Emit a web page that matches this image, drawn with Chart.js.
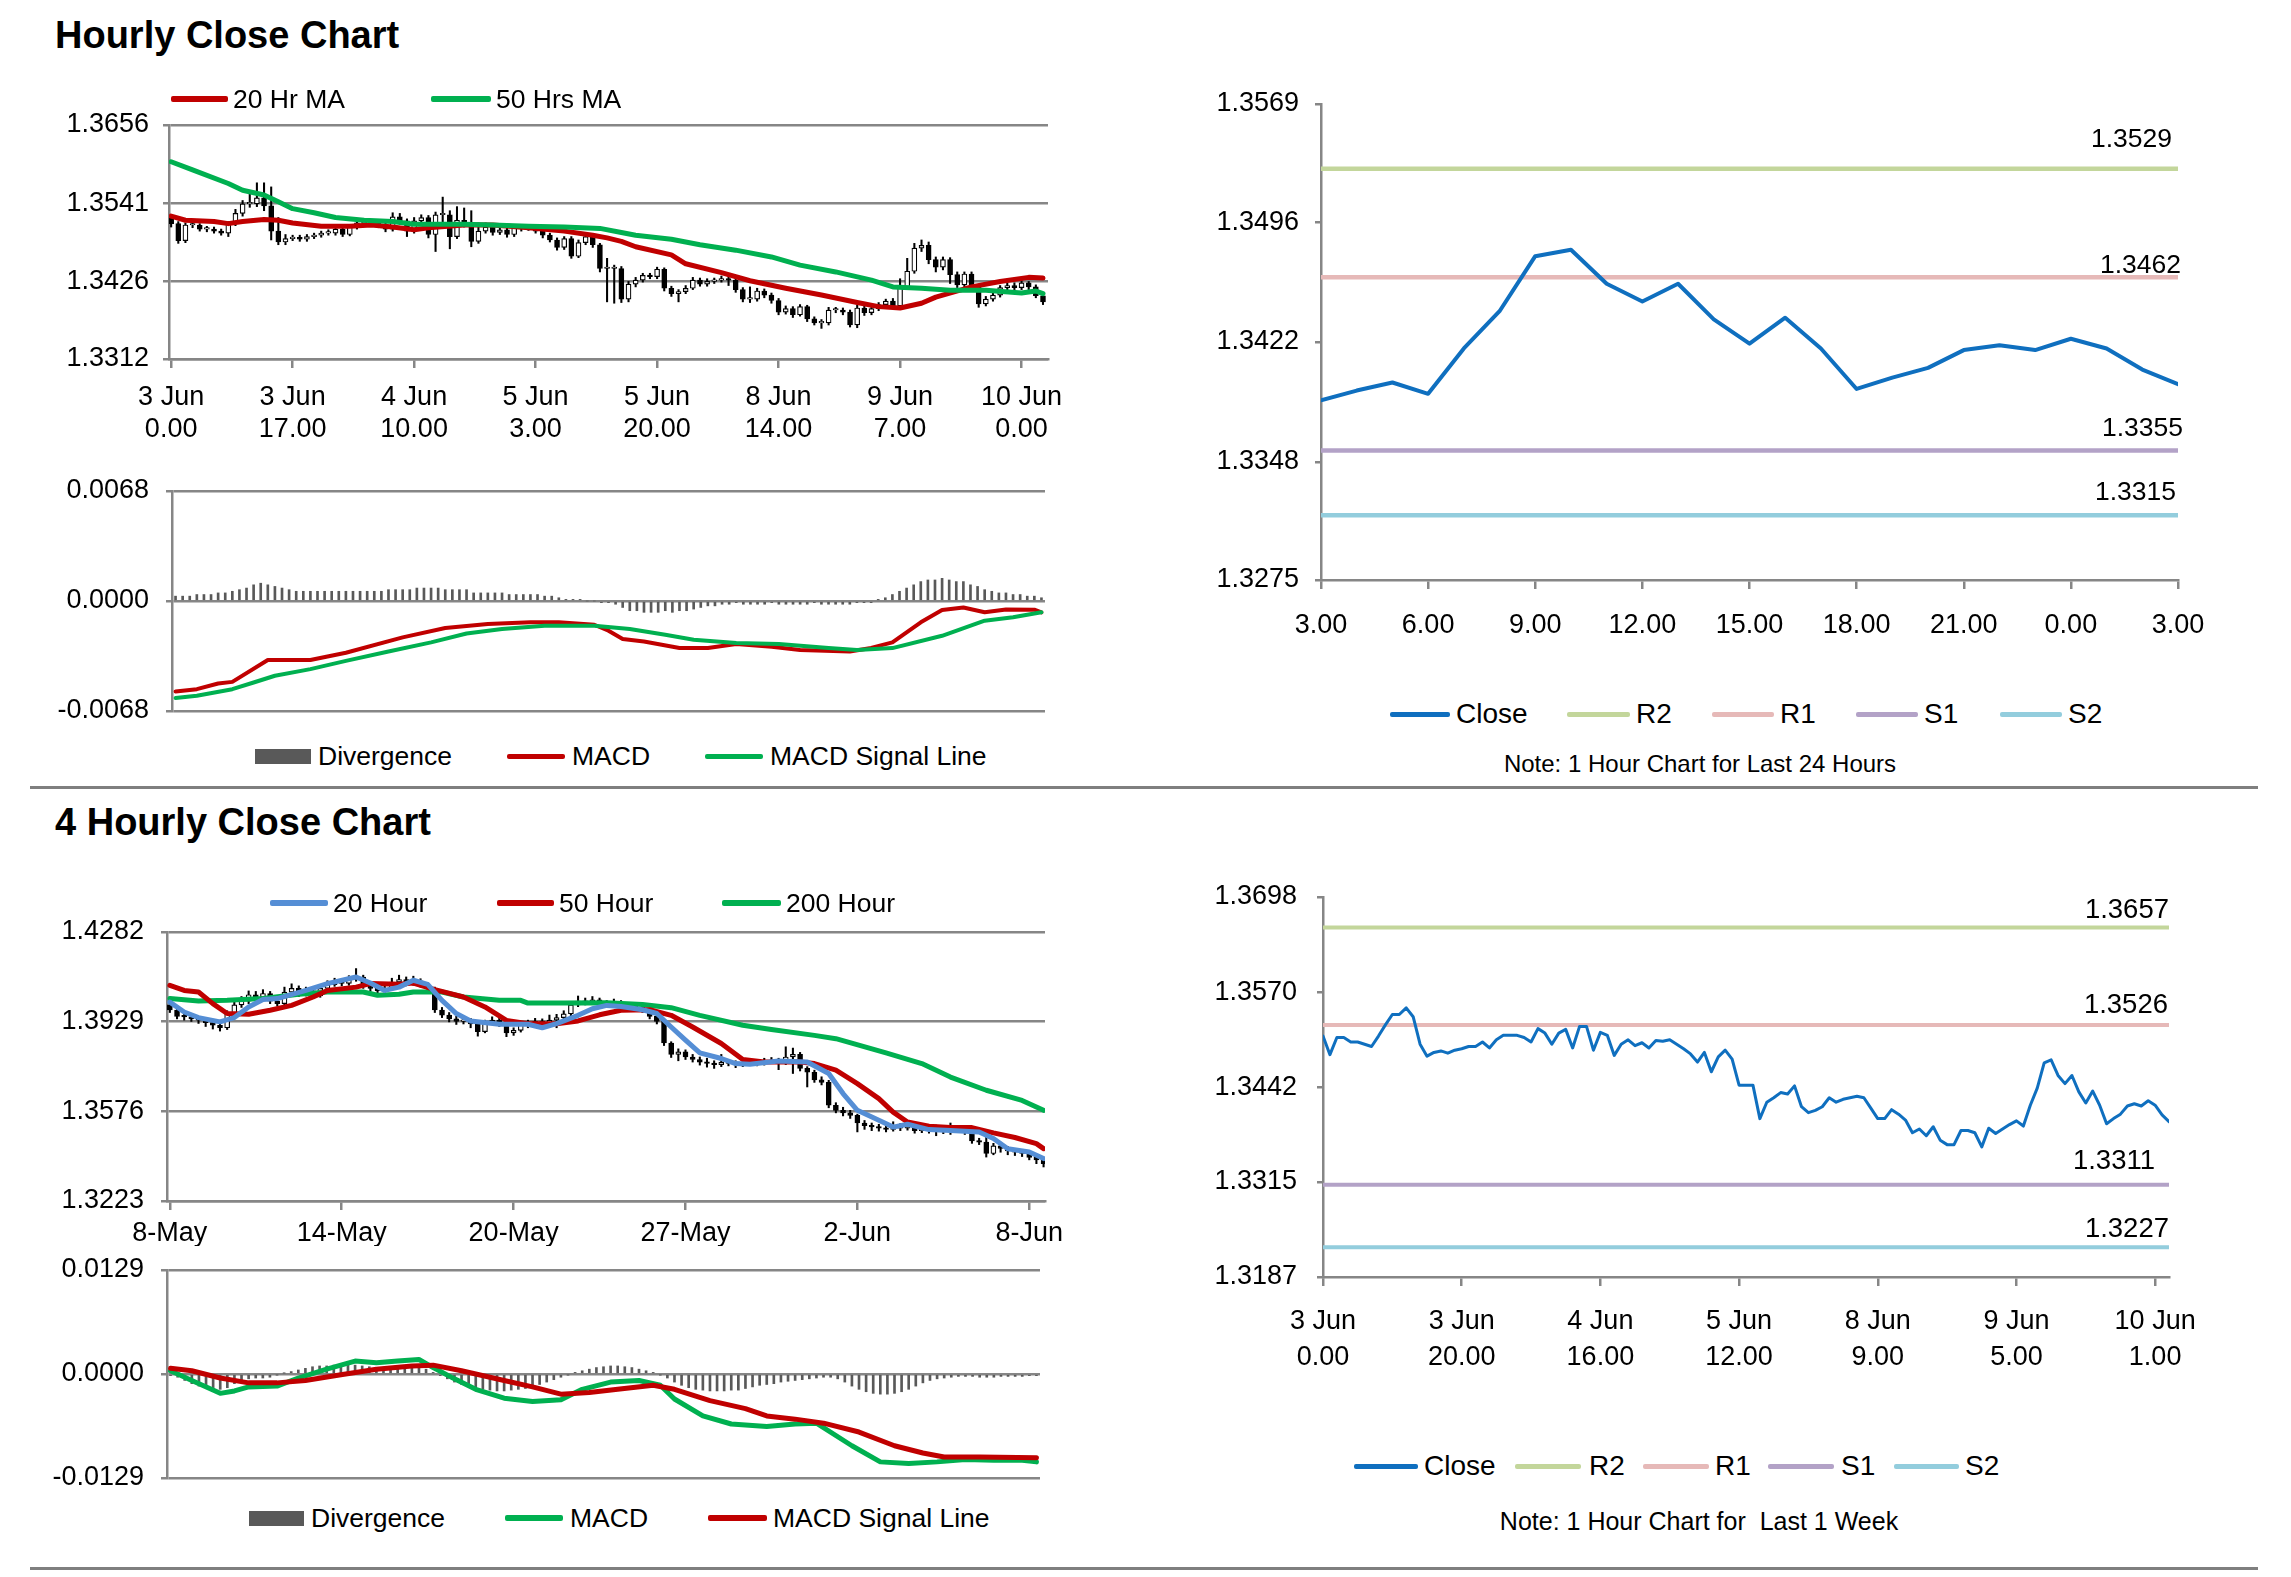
<!DOCTYPE html>
<html>
<head>
<meta charset="utf-8">
<title>Hourly Close Chart</title>
<script src="https://cdn.jsdelivr.net/npm/chart.js@4.4.1/dist/chart.umd.min.js"></script>
<style>
  html, body { margin: 0; padding: 0; background: #fff; }
  body { width: 2291px; height: 1577px; position: relative; overflow: hidden;
         font-family: "Liberation Sans", Arial, sans-serif; color: #000; }
  canvas { position: absolute; }
  .title { position: absolute; font-weight: bold; font-size: 38px; line-height: 1; transform: translateY(-50%); white-space: nowrap; }
  .rule { position: absolute; height: 3px; background: #7f7f7f; }
  .leg { position: absolute; line-height: 1; white-space: nowrap; transform: translateY(-50%); }
  .sw { position: absolute; border-radius: 2px; }
  .note { position: absolute; line-height: 1; white-space: nowrap; transform: translate(-50%, -50%); }
</style>
</head>
<body>
<div class="title" style="left:55px; top:35px;">Hourly Close Chart</div>
<div class="title" style="left:55px; top:822px;">4 Hourly Close Chart</div>
<div class="rule" style="left:30px; width:2228px; top:786px;"></div>
<div class="rule" style="left:30px; width:2228px; top:1567px;"></div>
<div class="note" style="left:1700px; top:764px; font-size:24px;">Note: 1 Hour Chart for Last 24 Hours</div>
<div class="note" style="left:1699px; top:1521px; font-size:25px;">Note: 1 Hour Chart for&nbsp; Last 1 Week</div>

<script>
// ---------------- hourly candles (3 Jun 0.00 .. 10 Jun 3.00) ----------------
const hourlyTickPos = [0, 17, 34, 51, 68, 85, 102, 119];
const hourlyTickLabels = [['3 Jun', '0.00'], ['3 Jun', '17.00'], ['4 Jun', '10.00'], ['5 Jun', '3.00'],
                          ['5 Jun', '20.00'], ['8 Jun', '14.00'], ['9 Jun', '7.00'], ['10 Jun', '0.00']];
const hourlyYTicks = [1.3312, 1.3426, 1.3541, 1.3656];

const hourlyOpen = [
  1.3519,1.3511,1.3486,1.3509,1.3509,1.3503,1.3503,1.3500,1.3497,1.3511,
  1.3526,1.3540,1.3540,1.3549,1.3537,1.3500,1.3484,1.3489,1.3491,1.3488,
  1.3492,1.3494,1.3497,1.3497,1.3503,1.3495,1.3506,1.3512,1.3512,1.3512,
  1.3509,1.3503,1.3521,1.3515,1.3500,1.3515,1.3520,1.3495,1.3524,1.3524,
  1.3492,1.3516,1.3512,1.3485,1.3500,1.3506,1.3498,1.3502,1.3495,1.3505,
  1.3504,1.3506,1.3500,1.3494,1.3487,1.3476,1.3489,1.3463,1.3483,1.3492,
  1.3480,1.3445,1.3445,1.3445,1.3400,1.3422,1.3428,1.3435,1.3433,1.3444,
  1.3416,1.3408,1.3411,1.3416,1.3428,1.3422,1.3426,1.3428,1.3430,1.3428,
  1.3414,1.3400,1.3400,1.3412,1.3406,1.3398,1.3381,1.3386,1.3377,1.3389,
  1.3371,1.3365,1.3365,1.3384,1.3384,1.3381,1.3362,1.3387,1.3380,1.3386,
  1.3392,1.3397,1.3390,1.3418,1.3441,1.3475,1.3479,1.3458,1.3447,1.3458,
  1.3436,1.3421,1.3437,1.3418,1.3393,1.3400,1.3406,1.3417,1.3420,1.3417,
  1.3424,1.3418,1.3405];
const hourlyHigh = [
  1.3524,1.3514,1.3512,1.3513,1.3511,1.3507,1.3506,1.3503,1.3514,1.3532,
  1.3545,1.3560,1.3571,1.3571,1.3565,1.3520,1.3495,1.3494,1.3494,1.3495,
  1.3497,1.3500,1.3502,1.3507,1.3506,1.3509,1.3515,1.3516,1.3517,1.3515,
  1.3512,1.3527,1.3526,1.3518,1.3520,1.3524,1.3523,1.3528,1.3550,1.3530,
  1.3536,1.3534,1.3530,1.3512,1.3512,1.3510,1.3506,1.3505,1.3509,1.3509,
  1.3510,1.3509,1.3503,1.3497,1.3490,1.3492,1.3492,1.3487,1.3495,1.3495,
  1.3482,1.3460,1.3450,1.3448,1.3426,1.3432,1.3438,1.3438,1.3447,1.3446,
  1.3419,1.3414,1.3420,1.3432,1.3431,1.3430,1.3431,1.3434,1.3437,1.3431,
  1.3417,1.3418,1.3416,1.3415,1.3409,1.3401,1.3390,1.3389,1.3392,1.3391,
  1.3374,1.3370,1.3388,1.3388,1.3387,1.3384,1.3391,1.3390,1.3390,1.3395,
  1.3400,1.3401,1.3430,1.3460,1.3482,1.3487,1.3484,1.3462,1.3462,1.3461,
  1.3440,1.3440,1.3440,1.3421,1.3404,1.3410,1.3420,1.3424,1.3424,1.3427,
  1.3426,1.3421,1.3408];
const hourlyLow = [
  1.3506,1.3482,1.3483,1.3505,1.3500,1.3499,1.3497,1.3494,1.3492,1.3508,
  1.3522,1.3535,1.3536,1.3530,1.3487,1.3480,1.3480,1.3486,1.3485,1.3485,
  1.3489,1.3491,1.3494,1.3494,1.3492,1.3493,1.3503,1.3508,1.3508,1.3505,
  1.3499,1.3500,1.3510,1.3492,1.3497,1.3511,1.3490,1.3470,1.3505,1.3474,
  1.3489,1.3506,1.3477,1.3482,1.3497,1.3494,1.3495,1.3491,1.3492,1.3500,
  1.3501,1.3497,1.3490,1.3484,1.3472,1.3473,1.3460,1.3461,1.3480,1.3476,
  1.3440,1.3396,1.3394,1.3395,1.3396,1.3418,1.3425,1.3430,1.3430,1.3412,
  1.3404,1.3396,1.3408,1.3414,1.3419,1.3419,1.3423,1.3425,1.3420,1.3410,
  1.3396,1.3395,1.3397,1.3402,1.3394,1.3377,1.3378,1.3373,1.3375,1.3367,
  1.3362,1.3357,1.3362,1.3380,1.3377,1.3359,1.3358,1.3376,1.3377,1.3383,
  1.3389,1.3386,1.3387,1.3415,1.3438,1.3470,1.3452,1.3440,1.3443,1.3423,
  1.3417,1.3418,1.3414,1.3388,1.3390,1.3397,1.3403,1.3413,1.3414,1.3414,
  1.3414,1.3402,1.3392];
const hourlyClose = [
  1.3511,1.3486,1.3509,1.3509,1.3503,1.3503,1.3500,1.3497,1.3511,1.3526,
  1.3540,1.3540,1.3549,1.3537,1.3500,1.3484,1.3489,1.3491,1.3488,1.3492,
  1.3494,1.3497,1.3497,1.3503,1.3495,1.3506,1.3512,1.3512,1.3512,1.3509,
  1.3503,1.3521,1.3515,1.3500,1.3515,1.3520,1.3495,1.3524,1.3524,1.3492,
  1.3516,1.3512,1.3485,1.3500,1.3506,1.3498,1.3502,1.3495,1.3505,1.3504,
  1.3506,1.3500,1.3494,1.3487,1.3476,1.3489,1.3463,1.3483,1.3492,1.3480,
  1.3445,1.3445,1.3445,1.3400,1.3422,1.3428,1.3435,1.3433,1.3444,1.3416,
  1.3408,1.3411,1.3416,1.3428,1.3422,1.3426,1.3428,1.3430,1.3428,1.3414,
  1.3400,1.3400,1.3412,1.3406,1.3398,1.3381,1.3386,1.3377,1.3389,1.3371,
  1.3365,1.3365,1.3384,1.3384,1.3381,1.3362,1.3387,1.3380,1.3386,1.3392,
  1.3397,1.3390,1.3418,1.3441,1.3475,1.3479,1.3458,1.3447,1.3458,1.3436,
  1.3421,1.3437,1.3418,1.3393,1.3400,1.3406,1.3417,1.3420,1.3417,1.3424,
  1.3418,1.3405,1.3396];

// moving averages: [hour index, value]
const hourlyMa20 = [[0,1.3522],[2,1.3516],[6,1.3514],[8,1.3511],[10,1.3514],[13,1.3517],[15,1.3516],[17,1.3512],
  [21,1.3507],[25,1.3507],[28,1.3509],[31,1.3506],[34,1.3502],[36,1.3505],[41,1.3509],[45,1.3509],[50,1.3505],
  [55,1.3500],[59,1.3494],[61,1.3490],[63,1.3485],[65,1.3477],[70,1.3465],[72,1.3452],[77,1.3439],[81,1.3427],
  [86,1.3416],[91,1.3406],[96,1.3395],[99,1.3389],[102,1.3387],[105,1.3394],[107,1.3403],[112,1.3418],
  [116,1.3426],[120,1.3432],[122,1.3431]];
const hourlyMa50 = [[0,1.3602],[3,1.3590],[8,1.3570],[10,1.3560],[13,1.3553],[15,1.3543],[17,1.3533],[20,1.3527],
  [23,1.3520],[27,1.3516],[31,1.3514],[34,1.3510],[41,1.3510],[45,1.3509],[50,1.3507],[55,1.3506],[60,1.3504],
  [63,1.3498],[65,1.3494],[70,1.3488],[74,1.3480],[79,1.3472],[84,1.3462],[88,1.3450],[93,1.3440],[98,1.3428],
  [101,1.3418],[105,1.3416],[109,1.3413],[114,1.3413],[119,1.3409],[121,1.3412],[122,1.3408]];

// hourly MACD panel
const hourlyMacdYTicks = [-0.0068, 0, 0.0068];
const hourlyMacd = [[0,-0.0056],[3,-0.00545],[6,-0.0051],[8,-0.0050],[13,-0.00365],[19,-0.00365],[24,-0.0032],
  [32,-0.00225],[38,-0.00167],[44,-0.00142],[50,-0.00132],[54,-0.00132],[59,-0.00147],[61,-0.00184],[63,-0.00235],
  [66,-0.0025],[71,-0.0029],[75,-0.0029],[79,-0.00266],[84,-0.00283],[88,-0.00303],[95,-0.00312],[98,-0.0029],
  [101,-0.00256],[105,-0.00132],[108,-0.00056],[111,-0.0004],[114,-0.0007],[117,-0.00052],[121,-0.00054],[122,-0.0007]];
const hourlySignal = [[0,-0.0060],[3,-0.00586],[8,-0.00545],[11,-0.00504],[14,-0.00462],[19,-0.00421],[24,-0.0037],
  [30,-0.00312],[36,-0.00256],[41,-0.00201],[46,-0.00173],[52,-0.00153],[59,-0.00153],[64,-0.00173],[69,-0.00209],
  [73,-0.0024],[79,-0.0026],[85,-0.00266],[92,-0.00291],[96,-0.00303],[101,-0.00291],[108,-0.00215],[114,-0.00122],
  [118,-0.00101],[122,-0.0007]];
const hourlyDivergence = [
  0.0003,0.0003,0.0003,0.0004,0.0004,0.0004,0.0005,0.0005,0.0006,0.0007,
  0.0008,0.0010,0.0011,0.0010,0.0009,0.0008,0.0007,0.0006,0.0006,0.0006,
  0.0006,0.0006,0.0006,0.0006,0.0006,0.0006,0.0006,0.0006,0.0006,0.0006,
  0.0007,0.0007,0.0007,0.0007,0.0008,0.0008,0.0008,0.0008,0.0007,0.0007,
  0.0007,0.0007,0.0005,0.0005,0.0005,0.0005,0.0005,0.0004,0.0004,0.0004,
  0.0004,0.0004,0.0003,0.0003,0.0002,0.0001,0.0001,0.0001,0.0000,0.0000,
  -0.0001,-0.0001,-0.0002,-0.0004,-0.0006,-0.0006,-0.0007,-0.0007,-0.0007,-0.0006,
  -0.0007,-0.0006,-0.0006,-0.0005,-0.0004,-0.0003,-0.0003,-0.0002,-0.0002,-0.0001,
  -0.0002,-0.0002,-0.0002,-0.0002,-0.0001,-0.0002,-0.0002,-0.0002,-0.0002,-0.0002,
  -0.0001,-0.0002,-0.0002,-0.0002,-0.0002,-0.0002,-0.0001,-0.0001,-0.0001,0.0001,
  0.0002,0.0004,0.0006,0.0008,0.0010,0.0012,0.0013,0.0013,0.0014,0.0013,
  0.0012,0.0012,0.0010,0.0009,0.0007,0.0006,0.0005,0.0005,0.0004,0.0004,
  0.0003,0.0003,0.0002];

// ---------------- last 24 hours (9 Jun 3.00 .. 10 Jun 3.00) ----------------
const dayTickPos = [0, 3, 6, 9, 12, 15, 18, 21, 24];
const dayTickLabels = ['3.00', '6.00', '9.00', '12.00', '15.00', '18.00', '21.00', '0.00', '3.00'];
const dayYTicks = [1.3275, 1.3348, 1.3422, 1.3496, 1.3569];
const dayClose = hourlyClose.slice(-25);
const levelNames = ['R2', 'R1', 'S1', 'S2'];
const dayLevels = [1.3529, 1.3462, 1.3355, 1.3315];

// ---------------- 4 hourly candles (8 May .. 8 Jun) ----------------
const fourHourTickPos = [0, 24, 48, 72, 96, 120];
const fourHourTickLabels = ['8-May', '14-May', '20-May', '27-May', '2-Jun', '8-Jun'];
const fourHourYTicks = [1.3223, 1.3576, 1.3929, 1.4282];
const fourHourOpen = [
  1.3995,1.3975,1.3950,1.3948,1.3940,1.3935,1.3925,1.3915,1.3905,1.3960,
  1.3995,1.4010,1.4035,1.4025,1.4040,1.4010,1.4000,1.4045,1.4060,1.4040,
  1.4050,1.4030,1.4060,1.4075,1.4085,1.4080,1.4095,1.4105,1.4070,1.4060,
  1.4050,1.4060,1.4085,1.4095,1.4080,1.4090,1.4075,1.4060,1.3975,1.3955,
  1.3940,1.3930,1.3935,1.3920,1.3890,1.3925,1.3935,1.3920,1.3885,1.3895,
  1.3915,1.3920,1.3930,1.3925,1.3935,1.3945,1.3960,1.3995,1.4010,1.4005,
  1.4015,1.4000,1.3995,1.4005,1.3995,1.3990,1.3985,1.3975,1.3950,1.3930,
  1.3845,1.3800,1.3810,1.3790,1.3780,1.3770,1.3765,1.3760,1.3770,1.3765,
  1.3760,1.3768,1.3770,1.3765,1.3772,1.3775,1.3770,1.3790,1.3800,1.3745,
  1.3730,1.3700,1.3690,1.3600,1.3580,1.3570,1.3560,1.3530,1.3520,1.3515,
  1.3510,1.3505,1.3520,1.3510,1.3525,1.3500,1.3505,1.3500,1.3510,1.3495,
  1.3505,1.3500,1.3495,1.3460,1.3455,1.3410,1.3440,1.3430,1.3420,1.3415,
  1.3410,1.3395,1.3385];
const fourHourHigh = [
  1.4010,1.3982,1.3965,1.3958,1.3950,1.3942,1.3932,1.3925,1.3972,1.4012,
  1.4028,1.4050,1.4048,1.4055,1.4048,1.4020,1.4065,1.4078,1.4070,1.4065,
  1.4060,1.4075,1.4090,1.4100,1.4098,1.4110,1.4138,1.4112,1.4078,1.4068,
  1.4075,1.4100,1.4112,1.4105,1.4108,1.4098,1.4082,1.4065,1.3985,1.3965,
  1.3950,1.3948,1.3942,1.3928,1.3935,1.3948,1.3942,1.3925,1.3905,1.3925,
  1.3935,1.3942,1.3940,1.3955,1.3958,1.3972,1.4008,1.4030,1.4022,1.4028,
  1.4022,1.4012,1.4018,1.4012,1.4005,1.3998,1.3992,1.3980,1.3958,1.3935,
  1.3850,1.3822,1.3818,1.3800,1.3790,1.3785,1.3775,1.3800,1.3780,1.3775,
  1.3780,1.3782,1.3778,1.3785,1.3788,1.3785,1.3830,1.3825,1.3808,1.3752,
  1.3738,1.3712,1.3698,1.3610,1.3592,1.3580,1.3565,1.3540,1.3530,1.3525,
  1.3520,1.3535,1.3528,1.3540,1.3530,1.3518,1.3515,1.3522,1.3518,1.3530,
  1.3515,1.3508,1.3500,1.3470,1.3475,1.3450,1.3448,1.3438,1.3428,1.3422,
  1.3418,1.3402,1.3392];
const fourHourLow = [
  1.3965,1.3940,1.3935,1.3930,1.3922,1.3910,1.3900,1.3892,1.3898,1.3950,
  1.3985,1.4000,1.4012,1.4015,1.4000,1.3990,1.3995,1.4035,1.4028,1.4030,
  1.4020,1.4025,1.4050,1.4068,1.4070,1.4072,1.4088,1.4060,1.4048,1.4040,
  1.4045,1.4052,1.4078,1.4070,1.4072,1.4065,1.4050,1.3965,1.3945,1.3928,
  1.3918,1.3920,1.3905,1.3872,1.3885,1.3918,1.3910,1.3870,1.3875,1.3888,
  1.3905,1.3912,1.3915,1.3918,1.3905,1.3938,1.3952,1.3988,1.3995,1.3998,
  1.3990,1.3985,1.3988,1.3985,1.3980,1.3975,1.3965,1.3940,1.3920,1.3835,
  1.3788,1.3775,1.3780,1.3770,1.3758,1.3750,1.3745,1.3752,1.3755,1.3748,
  1.3752,1.3760,1.3755,1.3758,1.3765,1.3740,1.3760,1.3725,1.3735,1.3672,
  1.3690,1.3680,1.3590,1.3570,1.3558,1.3548,1.3495,1.3505,1.3500,1.3498,
  1.3495,1.3498,1.3500,1.3502,1.3490,1.3492,1.3490,1.3480,1.3488,1.3485,
  1.3492,1.3485,1.3450,1.3445,1.3396,1.3405,1.3415,1.3405,1.3402,1.3398,
  1.3385,1.3370,1.3357];
const fourHourClose = [
  1.3975,1.3950,1.3948,1.3940,1.3935,1.3925,1.3915,1.3905,1.3960,1.3995,
  1.4010,1.4035,1.4025,1.4040,1.4010,1.4000,1.4045,1.4060,1.4040,1.4050,
  1.4030,1.4060,1.4075,1.4085,1.4080,1.4095,1.4105,1.4070,1.4060,1.4050,
  1.4060,1.4085,1.4095,1.4080,1.4090,1.4075,1.4060,1.3975,1.3955,1.3940,
  1.3930,1.3935,1.3920,1.3890,1.3925,1.3935,1.3920,1.3885,1.3895,1.3915,
  1.3920,1.3930,1.3925,1.3935,1.3945,1.3960,1.3995,1.4010,1.4005,1.4015,
  1.4000,1.3995,1.4005,1.3995,1.3990,1.3985,1.3975,1.3950,1.3930,1.3845,
  1.3800,1.3810,1.3790,1.3780,1.3770,1.3765,1.3760,1.3770,1.3765,1.3760,
  1.3768,1.3770,1.3765,1.3772,1.3775,1.3770,1.3790,1.3800,1.3745,1.3730,
  1.3700,1.3690,1.3600,1.3580,1.3570,1.3560,1.3530,1.3520,1.3515,1.3510,
  1.3505,1.3520,1.3510,1.3525,1.3500,1.3505,1.3500,1.3510,1.3495,1.3505,
  1.3500,1.3495,1.3460,1.3455,1.3410,1.3440,1.3430,1.3420,1.3415,1.3410,
  1.3395,1.3385,1.3370];

const fourHourMa20 = [[0,1.4006],[2,1.3967],[4,1.3945],[7,1.3928],[9,1.3945],[11,1.3987],[13,1.4016],[15,1.4020],
  [19,1.4052],[22,1.4079],[26,1.4105],[28,1.4081],[30,1.4052],[32,1.4065],[34,1.4092],[36,1.4076],[38,1.4013],
  [40,1.3961],[42,1.3932],[46,1.3919],[50,1.3919],[52,1.3905],[54,1.3921],[57,1.3954],[59,1.3980],[61,1.3993],
  [63,1.3989],[66,1.3976],[68,1.3961],[70,1.3908],[72,1.3856],[74,1.3806],[77,1.3784],[79,1.3764],[81,1.3761],
  [85,1.3774],[89,1.3770],[92,1.3725],[94,1.3646],[96,1.3580],[99,1.3541],[101,1.3514],[103,1.3525],[106,1.3504],
  [109,1.3501],[113,1.3495],[115,1.3469],[117,1.3429],[120,1.3416],[122,1.3390]];
const fourHourMa50 = [[0,1.4072],[2,1.4052],[4,1.4046],[6,1.4000],[8,1.3961],[11,1.3958],[14,1.3974],[17,1.3993],
  [20,1.4026],[22,1.4052],[26,1.4065],[28,1.4079],[32,1.4076],[34,1.4081],[37,1.4055],[41,1.4026],[44,1.3987],
  [47,1.3934],[50,1.3921],[54,1.3921],[57,1.3932],[60,1.3956],[63,1.3974],[67,1.3976],[70,1.3954],[73,1.3908],
  [77,1.3843],[80,1.3780],[83,1.3770],[88,1.3770],[90,1.3764],[93,1.3738],[96,1.3685],[99,1.3626],[101,1.3573],
  [103,1.3534],[106,1.3517],[109,1.3512],[112,1.3512],[115,1.3491],[118,1.3473],[121,1.3449],[122,1.3429]];
const fourHourMa200 = [[0,1.4020],[4,1.4010],[8,1.4013],[13,1.4020],[18,1.4037],[22,1.4046],[27,1.4046],[29,1.4033],
  [32,1.4037],[34,1.4046],[38,1.4046],[41,1.4026],[46,1.4013],[49,1.4013],[50,1.4002],[55,1.4002],[61,1.4003],
  [66,1.3997],[70,1.3984],[74,1.3954],[80,1.3915],[84,1.3898],[90,1.3875],[93,1.3862],[100,1.3806],[105,1.3764],
  [109,1.3711],[114,1.3659],[119,1.3619],[122,1.3580]];

// 4 hourly MACD panel
const fourHourMacdYTicks = [-0.0129, 0, 0.0129];
const fourHourMacd = [[0,0.0004],[3,-0.0008],[7,-0.0024],[9,-0.0021],[11,-0.0016],[15,-0.0015],[18,-0.0005],
  [22,0.0006],[26,0.0016],[29,0.0014],[32,0.0016],[35,0.0018],[37,0.0008],[40,-0.0006],[43,-0.0019],[47,-0.0030],
  [51,-0.0034],[55,-0.0032],[58,-0.0019],[62,-0.0010],[66,-0.0008],[69,-0.0014],[71,-0.0031],[75,-0.0052],
  [79,-0.0062],[84,-0.0065],[88,-0.0062],[91,-0.0061],[96,-0.0089],[100,-0.0109],[104,-0.0111],[108,-0.0109],
  [112,-0.0106],[116,-0.0107],[120,-0.0107],[122,-0.0109]];
const fourHourSignal = [[0,0.0007],[3,0.0004],[7,-0.0005],[11,-0.0011],[15,-0.0011],[19,-0.0008],[24,-0.0001],
  [29,0.0006],[34,0.0010],[37,0.0011],[41,0.0004],[47,-0.0008],[51,-0.0016],[55,-0.0025],[59,-0.0023],[63,-0.0019],
  [68,-0.0014],[71,-0.0019],[76,-0.0033],[81,-0.0043],[84,-0.0052],[88,-0.0056],[92,-0.0061],[97,-0.0072],
  [102,-0.0089],[106,-0.0098],[109,-0.0103],[114,-0.0103],[122,-0.0104]];
const fourHourDivergence = [
  -0.0002,-0.0004,-0.0008,-0.0012,-0.0015,-0.0017,-0.0019,-0.0019,-0.0017,-0.0012,
  -0.0008,-0.0006,-0.0005,-0.0005,-0.0004,-0.0001,0.0001,0.0003,0.0005,0.0007,
  0.0009,0.0010,0.0010,0.0011,0.0012,0.0012,0.0011,0.0010,0.0009,0.0008,
  0.0008,0.0007,0.0007,0.0007,0.0008,0.0008,0.0006,0.0002,-0.0002,-0.0006,
  -0.0010,-0.0013,-0.0016,-0.0018,-0.0019,-0.0020,-0.0021,-0.0021,-0.0020,-0.0019,
  -0.0018,-0.0016,-0.0013,-0.0010,-0.0007,-0.0004,-0.0001,0.0002,0.0004,0.0006,
  0.0008,0.0009,0.0010,0.0010,0.0009,0.0008,0.0006,0.0004,0.0002,-0.0001,
  -0.0005,-0.0010,-0.0014,-0.0017,-0.0019,-0.0020,-0.0021,-0.0021,-0.0021,-0.0020,
  -0.0020,-0.0018,-0.0016,-0.0014,-0.0013,-0.0012,-0.0010,-0.0009,-0.0008,-0.0007,
  -0.0006,-0.0005,-0.0004,-0.0004,-0.0006,-0.0010,-0.0015,-0.0019,-0.0022,-0.0024,
  -0.0025,-0.0025,-0.0024,-0.0022,-0.0019,-0.0015,-0.0011,-0.0008,-0.0006,-0.0005,
  -0.0004,-0.0003,-0.0003,-0.0003,-0.0004,-0.0004,-0.0004,-0.0003,-0.0003,-0.0003,
  -0.0003,-0.0002,-0.0002];

// ---------------- last 1 week hourly closes ----------------
const weekTickPos = [0, 20, 40, 60, 80, 100, 120];
const weekTickLabels = [['3 Jun', '0.00'], ['3 Jun', '20.00'], ['4 Jun', '16.00'], ['5 Jun', '12.00'],
                        ['8 Jun', '9.00'], ['9 Jun', '5.00'], ['10 Jun', '1.00']];
const weekYTicks = [1.3187, 1.3315, 1.3442, 1.3570, 1.3698];
const weekLevels = [1.3657, 1.3526, 1.3311, 1.3227];

// ---------------- styling ----------------
const FONT = '"Liberation Sans", Arial, sans-serif';
const GRID = '#868686';
const RED = '#C00000';
const GREEN = '#00B050';
const CLOSE_BLUE = '#0F6FBF';
const MA_BLUE = '#558ED5';
const DIV_GREY = '#595959';
const levelColors = ['#C3D69B', '#E6B9B8', '#B3A2C7', '#93CDDD'];

Chart.defaults.font.family = FONT;
Chart.defaults.color = '#000';

function pairs(list) { return list.map(p => ({ x: p[0], y: p[1] })); }
function series(values) { return values.map((v, i) => ({ x: i, y: v })); }

function makeCanvas(left, top, w, h) {
  const c = document.createElement('canvas');
  c.width = w; c.height = h;
  c.style.left = left + 'px'; c.style.top = top + 'px';
  c.style.width = w + 'px'; c.style.height = h + 'px';
  document.body.appendChild(c);
  return c;
}

function lineSet(data, color, width, order) {
  return { type: 'line', data, borderColor: color, backgroundColor: color, borderWidth: width,
           pointRadius: 0, tension: 0, order, borderJoinStyle: 'round', borderCapStyle: 'round' };
}

function candleSets(open, high, low, close, bodyWidth) {
  const body = open.map((o, i) => ({ x: i, y: [o, close[i]] }));
  const wick = open.map((o, i) => ({ x: i, y: [low[i], high[i]] }));
  const fill = open.map((o, i) => close[i] >= o ? '#ffffff' : '#000000');
  return [
    { type: 'bar', data: body, backgroundColor: fill, borderColor: '#000', borderWidth: 1.2,
      borderSkipped: false, barThickness: bodyWidth, minBarLength: 1.5, grouped: false, order: 5 },
    { type: 'bar', data: wick, backgroundColor: '#000', borderWidth: 0,
      barThickness: 1.4, grouped: false, order: 6 }
  ];
}

function barSet(values, order) {
  return { type: 'bar', data: series(values), backgroundColor: DIV_GREY, borderWidth: 0,
           barThickness: 2, grouped: false, order };
}

function levelSets(values, lastX, width, labelStyle) {
  return values.map((v, k) => ({
    type: 'line', label: levelNames[k], data: [{ x: 0, y: v }, { x: lastX, y: v }],
    borderColor: levelColors[k], borderWidth: width, pointRadius: 0, order: 2 + k,
    valueLabel: labelStyle[k]
  }));
}

function yScale(ticks, boxWidth, gridOnArea, pad) {
  return {
    type: 'linear', min: ticks[0], max: ticks[ticks.length - 1],
    afterBuildTicks: s => { s.ticks = ticks.map(v => ({ value: v })); },
    afterFit: s => { s.width = boxWidth; s.paddingTop = 0; s.paddingBottom = 0; },
    ticks: { autoSkip: false, padding: pad, color: '#000', font: { size: 27 },
             callback: v => Number(v).toFixed(4) },
    grid: { drawOnChartArea: gridOnArea, color: GRID, lineWidth: 2.5, tickLength: 6 },
    border: { display: true, color: GRID, width: 2.5 }
  };
}

function xScale(min, max, pos, labels, boxHeight, pad, lineHeight) {
  return {
    type: 'linear', min, max, offset: false,
    afterBuildTicks: s => { s.ticks = pos.map(v => ({ value: v })); },
    afterFit: s => { s.height = boxHeight; s.paddingLeft = 0; s.paddingRight = 0; },
    ticks: { autoSkip: false, maxRotation: 0, minRotation: 0, padding: pad, color: '#000',
             font: { size: 27, lineHeight }, callback: (v, i) => labels[i] },
    grid: { offset: false, drawOnChartArea: false, color: GRID, lineWidth: 2.5, tickLength: 9 },
    border: { display: true, color: GRID, width: 2.5 }
  };
}

function hiddenX(min, max) {
  return { type: 'linear', min, max, offset: false, display: false, grid: { offset: false } };
}

function options(padding, scales) {
  return {
    responsive: false, animation: false, devicePixelRatio: 1, events: [],
    layout: { padding },
    plugins: { legend: { display: false }, tooltip: { enabled: false } },
    scales
  };
}

// value labels printed above the last point of each support / resistance line
const levelLabels = {
  id: 'levelLabels',
  afterDatasetsDraw(chart) {
    const ctx = chart.ctx;
    chart.data.datasets.forEach((ds, i) => {
      if (!ds.valueLabel) return;
      const meta = chart.getDatasetMeta(i);
      const last = meta.data[meta.data.length - 1];
      const value = ds.data[ds.data.length - 1].y;
      ctx.save();
      ctx.font = ds.valueLabel.size + 'px ' + FONT;
      ctx.fillStyle = '#000';
      ctx.textAlign = 'right';
      ctx.textBaseline = 'middle';
      ctx.fillText(value.toFixed(4), last.x + ds.valueLabel.dx, last.y - ds.valueLabel.lift);
      ctx.restore();
    });
  }
};

// HTML legends
function addLegend(y, size, items) {
  items.forEach(it => {
    const sw = document.createElement('div');
    sw.className = 'sw';
    sw.style.left = it.x0 + 'px';
    sw.style.width = (it.x1 - it.x0) + 'px';
    sw.style.top = (y - it.h / 2) + 'px';
    sw.style.height = it.h + 'px';
    sw.style.background = it.color;
    if (it.box) sw.style.borderRadius = '0';
    document.body.appendChild(sw);
    const tx = document.createElement('div');
    tx.className = 'leg';
    tx.textContent = it.label;
    tx.style.left = it.tx + 'px';
    tx.style.top = y + 'px';
    tx.style.fontSize = size + 'px';
    document.body.appendChild(tx);
  });
}

// ---------------- Hourly candles ----------------
new Chart(makeCanvas(40, 105, 1048, 344), {
  type: 'bar',
  data: { datasets: [
    lineSet(pairs(hourlyMa50), GREEN, 5, 1),
    lineSet(pairs(hourlyMa20), RED, 5, 2),
    ...candleSets(hourlyOpen, hourlyHigh, hourlyLow, hourlyClose, 5)
  ] },
  options: options({ top: 20, right: 40, bottom: 0, left: 0 }, {
    x: xScale(-0.3, 122.7, hourlyTickPos, hourlyTickLabels, 90, 13, 1.2),
    y: yScale(hourlyYTicks, 129, true, 14)
  })
});
addLegend(99, 26.5, [
  { x0: 171, x1: 228, h: 6, color: RED, label: '20 Hr MA', tx: 233 },
  { x0: 431, x1: 491, h: 6, color: GREEN, label: '50 Hrs MA', tx: 496 }
]);

// ---------------- Hourly MACD ----------------
new Chart(makeCanvas(40, 471, 1025, 260), {
  type: 'bar',
  data: { datasets: [
    lineSet(pairs(hourlySignal), GREEN, 4, 1),
    lineSet(pairs(hourlyMacd), RED, 4, 2),
    barSet(hourlyDivergence, 3)
  ] },
  options: options({ top: 20, right: 20, bottom: 20, left: 0 }, {
    x: hiddenX(-0.5, 122.5),
    y: yScale(hourlyMacdYTicks, 132, true, 17)
  })
});
addLegend(756, 26.5, [
  { x0: 255, x1: 311, h: 15, color: DIV_GREY, label: 'Divergence', tx: 318, box: true },
  { x0: 507, x1: 565, h: 5, color: RED, label: 'MACD', tx: 572 },
  { x0: 705, x1: 763, h: 5, color: GREEN, label: 'MACD Signal Line', tx: 770 }
]);

// ---------------- Last 24 hours ----------------
new Chart(makeCanvas(1180, 80, 1058, 557), {
  type: 'line',
  data: { datasets: [
    lineSet(series(dayClose), CLOSE_BLUE, 4, 1),
    ...levelSets(dayLevels, 24, 4.5, [
      { lift: 29, dx: -6, size: 26.5 }, { lift: 12, dx: 3, size: 26.5 },
      { lift: 22, dx: 5, size: 26.5 }, { lift: 23, dx: -2, size: 26.5 }])
  ] },
  options: options({ top: 24, right: 60, bottom: 0, left: 0 }, {
    x: xScale(0, 24, dayTickPos, dayTickLabels, 57, 20, 1.2),
    y: yScale(dayYTicks, 141, false, 16)
  }),
  plugins: [levelLabels]
});
addLegend(714, 28, [
  { x0: 1390, x1: 1450, h: 5, color: CLOSE_BLUE, label: 'Close', tx: 1456 },
  { x0: 1567, x1: 1630, h: 5, color: levelColors[0], label: 'R2', tx: 1636 },
  { x0: 1712, x1: 1774, h: 5, color: levelColors[1], label: 'R1', tx: 1780 },
  { x0: 1856, x1: 1918, h: 5, color: levelColors[2], label: 'S1', tx: 1924 },
  { x0: 2000, x1: 2062, h: 5, color: levelColors[3], label: 'S2', tx: 2068 }
]);

// ---------------- 4 hourly candles ----------------
new Chart(makeCanvas(30, 912, 1060, 334), {
  type: 'bar',
  data: { datasets: [
    lineSet(pairs(fourHourMa20), MA_BLUE, 5, 1),
    lineSet(pairs(fourHourMa50), RED, 5, 2),
    lineSet(pairs(fourHourMa200), GREEN, 5, 3),
    ...candleSets(fourHourOpen, fourHourHigh, fourHourLow, fourHourClose, 5)
  ] },
  options: options({ top: 20, right: 45, bottom: 0, left: 0 }, {
    x: xScale(-0.4, 122.2, fourHourTickPos, fourHourTickLabels, 45, 7, 1.2),
    y: yScale(fourHourYTicks, 137, true, 17)
  })
});
addLegend(903, 26.5, [
  { x0: 270, x1: 328, h: 6, color: MA_BLUE, label: '20 Hour', tx: 333 },
  { x0: 497, x1: 554, h: 6, color: RED, label: '50 Hour', tx: 559 },
  { x0: 722, x1: 781, h: 6, color: GREEN, label: '200 Hour', tx: 786 }
]);

// ---------------- 4 hourly MACD ----------------
new Chart(makeCanvas(30, 1250, 1030, 248), {
  type: 'bar',
  data: { datasets: [
    lineSet(pairs(fourHourSignal), RED, 5, 1),
    lineSet(pairs(fourHourMacd), GREEN, 5, 2),
    barSet(fourHourDivergence, 3)
  ] },
  options: options({ top: 20, right: 20, bottom: 20, left: 0 }, {
    x: hiddenX(-0.5, 122.5),
    y: yScale(fourHourMacdYTicks, 137, true, 17)
  })
});
addLegend(1518, 26.5, [
  { x0: 249, x1: 304, h: 15, color: DIV_GREY, label: 'Divergence', tx: 311, box: true },
  { x0: 505, x1: 563, h: 6, color: GREEN, label: 'MACD', tx: 570 },
  { x0: 708, x1: 767, h: 6, color: RED, label: 'MACD Signal Line', tx: 773 }
]);

// ---------------- Last 1 week ----------------
new Chart(makeCanvas(1180, 876, 1049, 501), {
  type: 'line',
  data: { datasets: [
    lineSet(series(hourlyClose), CLOSE_BLUE, 3, 1),
    ...levelSets(weekLevels, hourlyClose.length - 1, 4, [
      { lift: 17, dx: 0, size: 27.5 }, { lift: 19, dx: -1, size: 27.5 },
      { lift: 23, dx: -14, size: 27.5 }, { lift: 18, dx: 0, size: 27.5 }])
  ] },
  options: options({ top: 21, right: 60, bottom: 0, left: 0 }, {
    x: xScale(0, hourlyClose.length - 1, weekTickPos, weekTickLabels, 100, 17, 1.35),
    y: yScale(weekYTicks, 143, false, 20)
  }),
  plugins: [levelLabels]
});
addLegend(1466, 28, [
  { x0: 1354, x1: 1418, h: 5, color: CLOSE_BLUE, label: 'Close', tx: 1424 },
  { x0: 1515, x1: 1581, h: 5, color: levelColors[0], label: 'R2', tx: 1589 },
  { x0: 1643, x1: 1709, h: 5, color: levelColors[1], label: 'R1', tx: 1715 },
  { x0: 1768, x1: 1834, h: 5, color: levelColors[2], label: 'S1', tx: 1841 },
  { x0: 1894, x1: 1959, h: 5, color: levelColors[3], label: 'S2', tx: 1965 }
]);
</script>
</body>
</html>
